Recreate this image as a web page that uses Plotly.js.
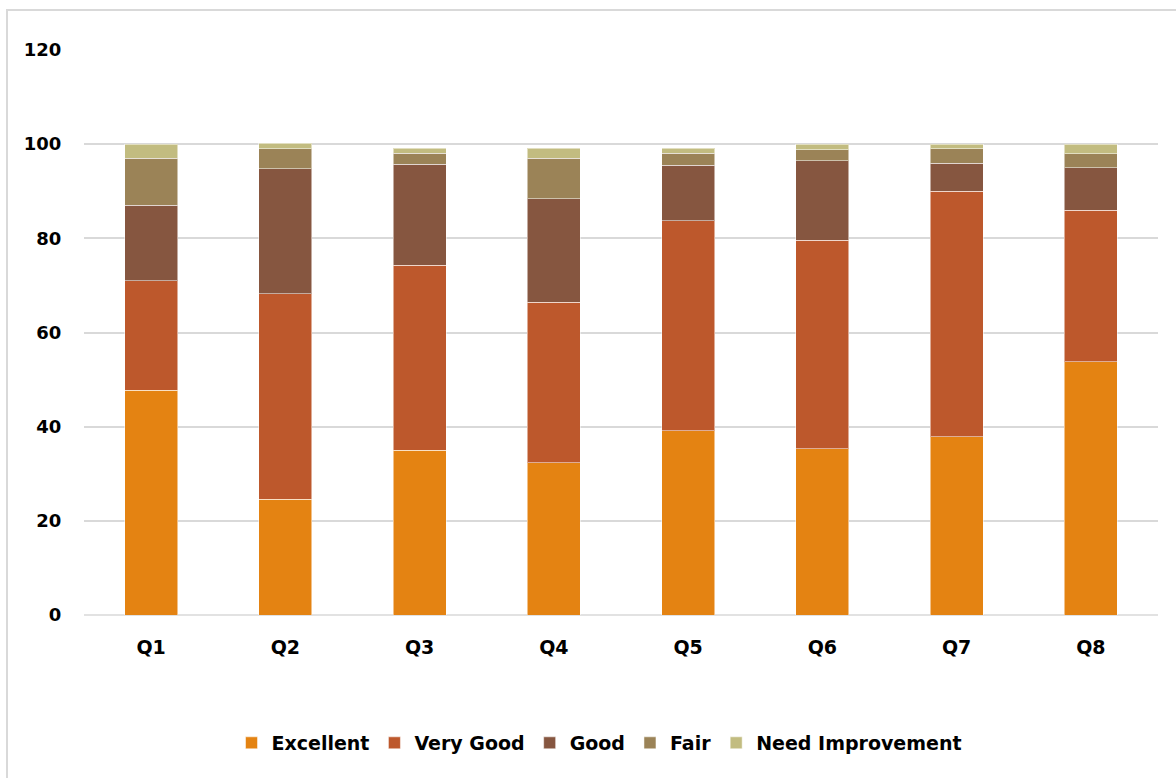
<!DOCTYPE html>
<html>
<head>
<meta charset="utf-8">
<script src="https://cdn.plot.ly/plotly-3.0.1.min.js"></script>
<style>
html,body{margin:0;padding:0;background:#fff;}
#chart{width:1176px;height:778px;}
</style>
</head>
<body>
<div id="chart"></div>
<script>
const categories = ['Q1','Q2','Q3','Q4','Q5','Q6','Q7','Q8'];
const excellent = [47.7, 24.6, 35.0, 32.3, 39.1, 35.3, 37.9, 53.8];
const veryGood  = [23.3, 43.6, 39.3, 34.1, 44.6, 44.3, 52.1, 32.2];
const good      = [16.0, 26.6, 21.4, 22.0, 11.8, 16.9, 6.0, 9.0];
const fair      = [10.0, 4.2, 2.4, 8.6, 2.6, 2.3, 3.0, 3.0];
const needImprovement = [3.0, 1.2, 1.0, 2.1, 1.0, 1.2, 1.0, 2.0];
const seriesNames = ['Excellent','Very Good','Good','Fair','Need Improvement'];
const seriesColors = ['#E48312','#BD582C','#865640','#9B8357','#C2BC80'];
const yTicks = [0,20,40,60,80,100,120];

const seriesValues = [excellent, veryGood, good, fair, needImprovement];
const traces = seriesValues.map((vals, i) => ({
  type: 'bar',
  name: seriesNames[i],
  x: categories,
  y: vals,
  marker: {color: seriesColors[i], line: {color: 'rgba(255,255,255,0.5)', width: 1}},
  hoverinfo: 'x+y+name'
}));

const FONT = 'DejaVu Sans, Liberation Sans, Arial, sans-serif';
const layout = {
  width: 1176, height: 778,
  margin: {l: 84, r: 18, t: 50, b: 163},
  barmode: 'stack',
  bargap: 0.604,
  paper_bgcolor: '#fff',
  plot_bgcolor: '#fff',
  font: {family: FONT, color: '#000'},
  xaxis: {
    type: 'category',
    showgrid: false,
    showline: false,
    zeroline: false,
    ticks: 'outside', ticklen: 15, tickcolor: 'rgba(0,0,0,0)',
    tickfont: {family: FONT, size: 19, color: '#000', weight: 'bold'}
  },
  yaxis: {
    range: [0, 120],
    tickvals: yTicks,
    showgrid: true, gridcolor: '#d9d9d9', gridwidth: 1.5,
    zeroline: false, showline: false,
    ticks: 'outside', ticklen: 18, tickcolor: 'rgba(0,0,0,0)',
    tickfont: {family: FONT, size: 18, color: '#000', weight: 'bold'}
  },
  shapes: [
    {type: 'line', xref: 'paper', yref: 'paper', x0: 0, x1: 1, y0: 0, y1: 0,
     line: {color: '#d9d9d9', width: 1.5}, layer: 'below'},
    {type: 'path', xref: 'paper', yref: 'paper',
     path: 'M -0.0717 -0.3 L -0.0717 1.0708 L 1.02 1.0708',
     line: {color: '#d9d9d9', width: 2}}
  ],
  showlegend: true,
  legend: {
    orientation: 'h',
    x: 0.48, xanchor: 'center',
    y: -0.2265, yanchor: 'middle',
    font: {family: FONT, size: 19, color: '#000', weight: 'bold'},
    traceorder: 'normal',
    itemwidth: 20,
    itemclick: false
  }
};

Plotly.newPlot('chart', traces, layout, {displayModeBar: false});
</script>
</body>
</html>
